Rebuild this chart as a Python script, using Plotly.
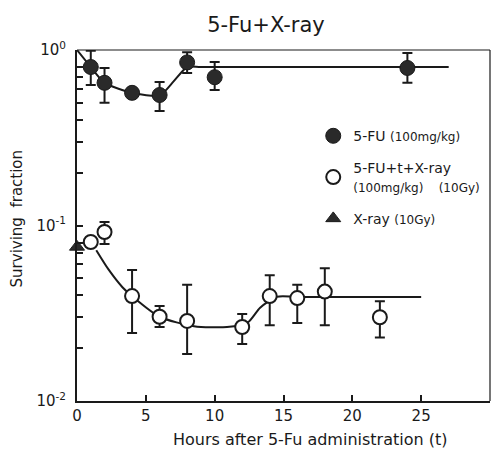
import plotly.graph_objects as go

# 5-FU alone (100 mg/kg)
fu_t = [1, 2, 4, 6, 8, 10, 24]
fu_sf = [0.80, 0.65, 0.57, 0.554, 0.85, 0.70, 0.79]
fu_hi = [0.99, 0.79, 0.57, 0.657, 0.97, 0.854, 0.96]
fu_lo = [0.632, 0.50, 0.57, 0.449, 0.74, 0.592, 0.65]

# 5-FU + t + X-ray (100 mg/kg, 10 Gy)
cx_t = [1, 2, 4, 6, 8, 12, 14, 16, 18, 22]
cx_sf = [0.0805, 0.0918, 0.0396, 0.0302, 0.0286, 0.0264, 0.0396, 0.0386, 0.0420, 0.0300]
cx_hi = [0.0805, 0.1047, 0.0558, 0.0348, 0.0460, 0.0313, 0.0520, 0.0460, 0.0570, 0.0370]
cx_lo = [0.0805, 0.0785, 0.0244, 0.0264, 0.0185, 0.0211, 0.0270, 0.0278, 0.0270, 0.0230]

# X-ray alone (10 Gy)
xr_t = [0]
xr_sf = [0.0755]

# hand-drawn trend curves
fu_curve_t = [0, 1, 2, 4, 6, 7, 8, 9, 27]
fu_curve_sf = [1.0, 0.80, 0.65, 0.57, 0.55, 0.66, 0.80, 0.80, 0.80]
cx_curve_t = [1.4, 2.3, 3.3, 4, 6, 8.5, 10.9, 12.4, 13.3, 14.5, 16, 25]
cx_curve_sf = [0.0723, 0.056, 0.0445, 0.0396, 0.0302, 0.0267, 0.0264, 0.028, 0.034, 0.0392, 0.0392, 0.0392]

y_major = [0.01, 0.1, 1]
y_major_text = ["10<sup>-2</sup>", "10<sup>-1</sup>", "10<sup>0</sup>"]
x_ticks = [0, 5, 10, 15, 20, 25, 30]

ink = "#1a1a1a"
font = "DejaVu Sans, Liberation Sans, sans-serif"

# log tick positions: decade labels plus unlabeled minor ticks 2..8
tickvals, ticktext = [], []
for dec, lab in zip(y_major, y_major_text):
    tickvals.append(dec)
    ticktext.append(lab)
    if dec < 1:
        for m in range(2, 9):
            tickvals.append(dec * m)
            ticktext.append("")

fig = go.Figure()

fig.add_trace(go.Scatter(x=fu_curve_t, y=fu_curve_sf, mode="lines",
                         line=dict(color=ink, width=2, shape="spline", smoothing=0.6),
                         showlegend=False, hoverinfo="skip"))
fig.add_trace(go.Scatter(x=cx_curve_t, y=cx_curve_sf, mode="lines",
                         line=dict(color=ink, width=2, shape="spline", smoothing=0.7),
                         showlegend=False, hoverinfo="skip"))


def err(sf, hi, lo):
    return dict(type="data", symmetric=False,
                array=[h - s for s, h in zip(sf, hi)],
                arrayminus=[s - l for s, l in zip(sf, lo)],
                color=ink, thickness=2, width=5)


fig.add_trace(go.Scatter(
    x=fu_t, y=fu_sf, mode="markers", error_y=err(fu_sf, fu_hi, fu_lo), legendgroup="a",
    marker=dict(symbol="circle", size=15, color="#2a2a2a", line=dict(color=ink, width=1)),
    name="5-FU <span style='font-size:12px'>(100mg/kg)</span>"))
fig.add_trace(go.Scatter(
    x=cx_t, y=cx_sf, mode="markers", error_y=err(cx_sf, cx_hi, cx_lo), legendgroup="b",
    marker=dict(symbol="circle", size=14, color="white", line=dict(color=ink, width=2)),
    name="5-FU+t+X-ray<br><span style='font-size:12px'>(100mg/kg)&nbsp;&nbsp;&nbsp;&nbsp;(10Gy)</span>"))
fig.add_trace(go.Scatter(
    x=xr_t, y=xr_sf, mode="markers", cliponaxis=False, legendgroup="c",
    marker=dict(symbol="triangle-up", size=13, color="#2a2a2a", line=dict(color=ink, width=1)),
    name="X-ray <span style='font-size:12px'>(10Gy)</span>"))

fig.update_layout(
    width=499, height=451,
    margin=dict(l=77, r=9, t=50, b=50),
    paper_bgcolor="white", plot_bgcolor="white",
    font=dict(family=font, color=ink, size=13),
    title=dict(text="5-Fu+X-ray", x=0.533, xanchor="center", y=0.945, yanchor="middle",
               font=dict(size=21, family=font, color=ink)),
    showlegend=True,
    legend=dict(x=0.572, y=0.80, xanchor="left", yanchor="top", bgcolor="rgba(0,0,0,0)",
                font=dict(size=14, family=font, color=ink), tracegroupgap=11,
                itemwidth=30, valign="middle"),
    xaxis=dict(range=[0, 30], tickvals=x_ticks, ticks="inside", ticklen=6, tickwidth=1.5,
               tickcolor=ink, showline=True, linecolor=ink, linewidth=2,
               showgrid=False, zeroline=False, tickfont=dict(size=15)),
    yaxis=dict(type="log", range=[-2, 0], tickvals=tickvals, ticktext=ticktext,
               ticks="inside", ticklen=6, tickwidth=1.5, tickcolor=ink,
               showline=True, linecolor=ink, linewidth=2, showgrid=False, zeroline=False,
               tickfont=dict(size=15), ticklabelstandoff=6),
    annotations=[
        dict(text="Hours after 5-Fu administration (t)", xref="paper", yref="paper",
             x=0.564, y=-0.11, xanchor="center", yanchor="middle", showarrow=False,
             font=dict(size=16, family=font, color=ink)),
        dict(text="Surviving  fraction", xref="paper", yref="paper", x=-0.143, y=0.52,
             textangle=-90, xanchor="center", yanchor="middle", showarrow=False,
             font=dict(size=15, family=font, color=ink)),
    ],
    shapes=[
        dict(type="line", xref="paper", yref="paper", x0=0, x1=1, y0=1, y1=1,
             line=dict(color=ink, width=1.2)),
        dict(type="line", xref="paper", yref="paper", x0=1, x1=1, y0=0, y1=1,
             line=dict(color=ink, width=1.2)),
    ],
)

fig.write_html("out.html")
